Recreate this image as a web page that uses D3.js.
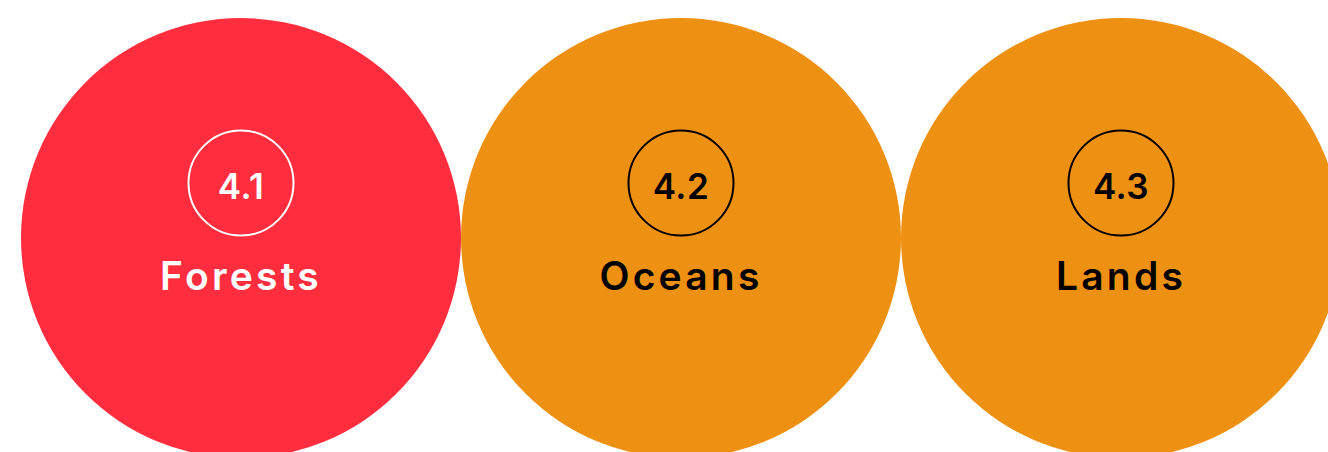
<!DOCTYPE html>
<html><head><meta charset="utf-8">
<script src="https://cdn.jsdelivr.net/npm/d3@7"></script>
<style>html,body{margin:0;padding:0;background:#fff;overflow:hidden}</style>
</head><body>
<svg id="chart" width="1328" height="452"></svg>
<script>
const categories = ["Forests", "Oceans", "Lands"];
const codes = ["4.1", "4.2", "4.3"];
const highlighted = [true, false, false];

const svg = d3.select("#chart");
const x = d3.scalePoint().domain(categories).range([241, 1121]);
const fill = d3.scaleOrdinal().domain([true, false]).range(["#ff2d3d", "#ee9011"]);
const ink = d3.scaleOrdinal().domain([true, false]).range(["#ffffff", "#000000"]);
const R = 220, cy = 238;

const data = categories.map((c, i) => ({name: c, code: codes[i], hi: highlighted[i]}));
const g = svg.selectAll("g.node").data(data).join("g").attr("class", "node")
  .attr("transform", d => `translate(${x(d.name)},${cy})`);
g.append("circle").attr("r", R).attr("fill", d => fill(d.hi));
g.append("circle").attr("cy", -55).attr("r", 52.5).attr("fill", "none")
  .attr("stroke", d => ink(d.hi)).attr("stroke-width", 2);
g.append("text").attr("y", -39).attr("text-anchor", "middle")
  .attr("font-family", "Inter, sans-serif").attr("font-weight", 600).attr("font-size", 35)
  .attr("letter-spacing", 0.5)
  .attr("fill", d => ink(d.hi)).text(d => d.code);
g.append("text").attr("y", 51.5).attr("text-anchor", "middle")
  .attr("font-family", "Inter, sans-serif").attr("font-weight", 600).attr("font-size", 39)
  .attr("letter-spacing", 3.2)
  .attr("fill", d => ink(d.hi)).text(d => d.name);
</script>
</body></html>
